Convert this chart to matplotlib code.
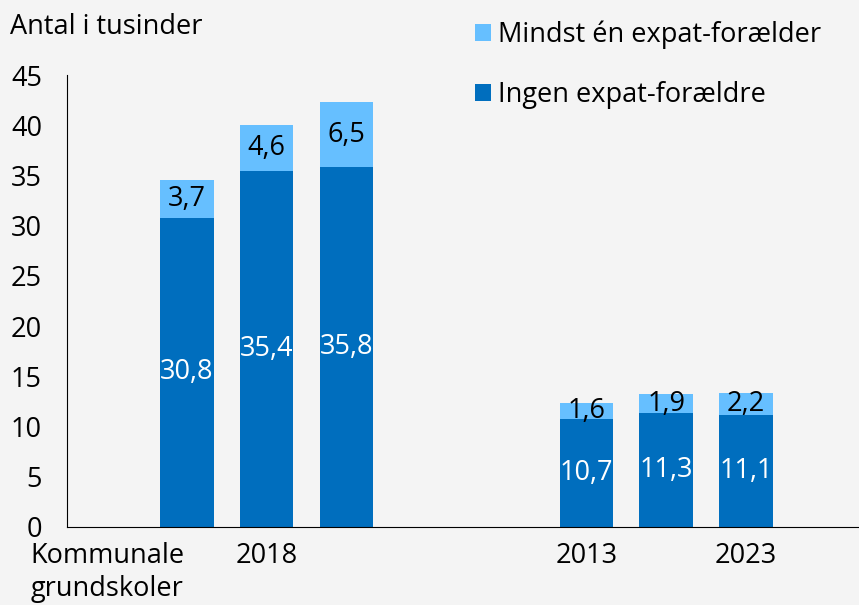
import numpy as np
import matplotlib.pyplot as plt

plt.rcParams['font.family'] = ['Open Sans', 'DejaVu Sans']

# positions on the category axis (blank slots keep the gaps)
positions = [1, 2, 3, 6, 7, 8]
ingen = [30.8, 35.4, 35.8, 10.7, 11.3, 11.1]
mindst = [3.7, 4.6, 6.5, 1.6, 1.9, 2.2]
tick_pos = [0, 2, 6, 8]
tick_labels = ['Kommunale\ngrundskoler', '2018', '2013', '2023']

dark = '#006EBE'
light = '#66BFFF'
bg = '#F4F4F4'
fs = 19.5

fig = plt.figure(figsize=(8.59, 6.05), dpi=100, facecolor=bg)
ax = fig.add_axes([0.078, 0.129, 0.93, 0.747], facecolor=bg)

b1 = ax.bar(positions, ingen, width=0.67, color=dark, label='Ingen expat-forældre')
b2 = ax.bar(positions, mindst, width=0.67, bottom=ingen, color=light,
            label='Mindst én expat-forælder')

for x, a, b in zip(positions, ingen, mindst):
    ax.text(x, a / 2, f'{a:.1f}'.replace('.', ','), ha='center', va='center',
            color='white', fontsize=fs)
    ax.text(x, a + b / 2, f'{b:.1f}'.replace('.', ','), ha='center', va='center',
            color='black', fontsize=fs)

ax.set_xlim(-0.5, 9.5)
ax.set_ylim(0, 45)
ax.set_yticks(range(0, 46, 5))
ax.tick_params(axis='y', length=0, pad=18, labelsize=fs)
ax.set_xticks(tick_pos)
ax.set_xticklabels(tick_labels, fontsize=fs, linespacing=1.22)
ax.tick_params(axis='x', length=0, pad=11)
ax.spines['top'].set_visible(False)
ax.spines['right'].set_visible(False)
ax.spines['left'].set_color('black')
ax.spines['bottom'].set_color('black')

fig.text(0.012, 0.955, 'Antal i tusinder', fontsize=fs, va='center', ha='left')

ax.legend(handles=[b2, b1], loc='upper left', bbox_to_anchor=(0.48, 1.175),
          frameon=False, fontsize=fs, handlelength=0.6, handleheight=0.6,
          handletextpad=0.25, labelspacing=1.2)

fig.savefig('out.png', dpi=100, facecolor=bg)
